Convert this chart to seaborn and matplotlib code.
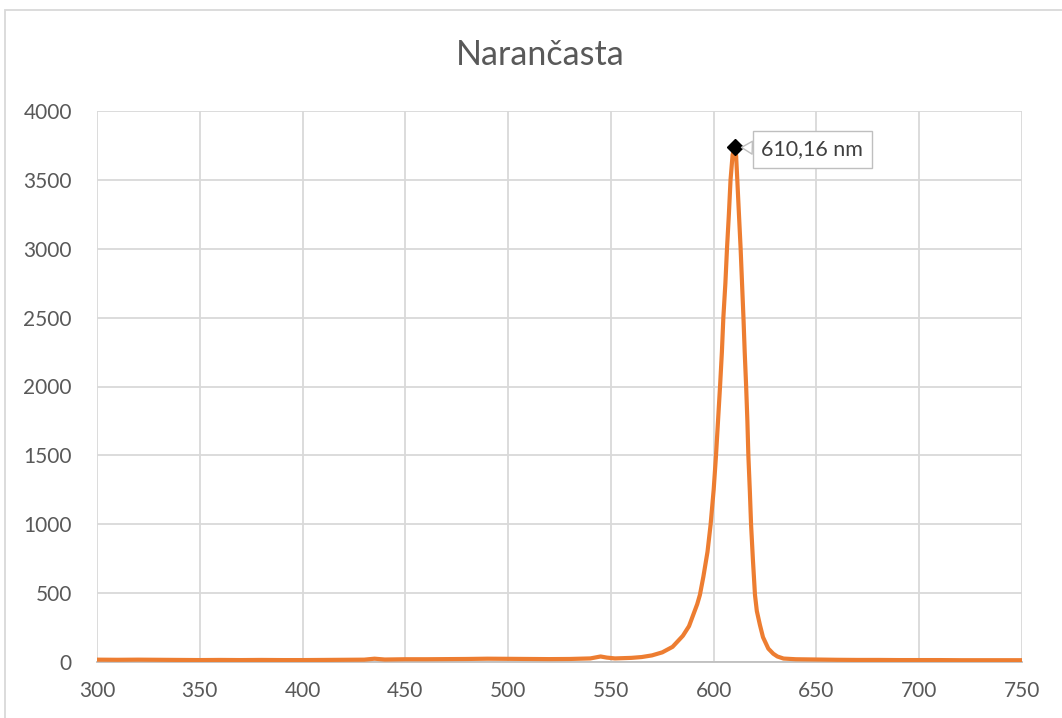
import matplotlib
matplotlib.use("Agg")
import matplotlib.pyplot as plt
import seaborn as sns
import pandas as pd
from matplotlib.patches import Rectangle

wavelength = [300, 310, 320, 330, 340, 350, 360, 370, 380, 390, 400, 410, 420, 430, 435, 440,
              450, 460, 470, 480, 490, 500, 510, 520, 530, 540, 545, 548, 552, 560, 565, 570,
              575, 580, 585, 588, 590, 592, 593.3, 595, 597, 598.5, 600, 601.1, 602, 603.1,
              604, 604.7, 605.7, 606.5, 607.4, 608.2, 609.2, 610.16, 610.9, 611.5, 612.3, 613.1,
              613.8, 614.5, 615.1, 615.8, 616.4, 616.9, 617.6, 618.2, 619.1, 620.1, 621, 622.5,
              624, 626.6, 629, 631, 634, 640, 650, 660, 670, 680, 690, 700, 710, 720, 730, 740, 750]
intensity = [17, 16, 17, 16, 15, 14, 15, 14, 15, 14, 14, 15, 16, 17, 24, 18,
             20, 20, 21, 22, 24, 23, 22, 21, 22, 26, 40, 32, 26, 30, 36, 48,
             70, 110, 190, 260, 340, 420, 487, 620, 800, 996, 1250, 1491, 1720, 2000,
             2250, 2497, 2750, 3006, 3250, 3498, 3680, 3737, 3680, 3498, 3250, 3006,
             2750, 2497, 2250, 2000, 1750, 1491, 1240, 996, 740, 487, 370, 269,
             180, 97, 60, 40, 25, 20, 18, 16, 15, 15, 14, 14, 14, 13, 13, 13, 13]
peak_x = 610.16
peak_y = 3737
peak_label = "610,16 nm"
title = "Narančasta"
x_ticks = [300, 350, 400, 450, 500, 550, 600, 650, 700, 750]
y_ticks = [0, 500, 1000, 1500, 2000, 2500, 3000, 3500, 4000]

df = pd.DataFrame({"wavelength": wavelength, "intensity": intensity})

sns.set_theme(style="white")
plt.rcParams['font.family'] = ['Lato', 'DejaVu Sans']

fig = plt.figure(figsize=(10.62, 7.18), dpi=100)
ax = fig.add_axes([97/1062, 1-662/718, (1022-97)/1062, (662-111)/718])

sns.lineplot(data=df, x="wavelength", y="intensity", ax=ax, color="#ED7D31",
             linewidth=3.0, sort=False, zorder=3)
ax.plot([peak_x], [peak_y], marker="D", color="black", markersize=8.5, zorder=4)

ax.annotate(peak_label, xy=(peak_x, peak_y), xytext=(648, 3722),
            ha="center", va="center", fontsize=15.5, color="#404040", zorder=5,
            bbox=dict(boxstyle="square,pad=0.4", fc="white", ec="#bfbfbf", lw=1),
            arrowprops=dict(arrowstyle="wedge,tail_width=0.6,shrink_factor=0.5",
                            fc="white", ec="#bfbfbf", lw=1, shrinkA=0, shrinkB=5))

ax.set_xlim(300, 750)
ax.set_ylim(0, 4000)
ax.set_xticks(x_ticks)
ax.set_yticks(y_ticks)
ax.set_xlabel("")
ax.set_ylabel("")
ax.grid(True, color="#d9d9d9", linewidth=1.3)
ax.set_axisbelow(True)
for s in ["top", "right", "left"]:
    ax.spines[s].set_visible(False)
ax.spines["bottom"].set_color("#bfbfbf")
ax.spines["bottom"].set_linewidth(1.3)
ax.tick_params(axis="both", length=0, labelsize=15, labelcolor="#595959")
ax.tick_params(axis="x", pad=14)
ax.tick_params(axis="y", pad=18)

fig.text(540/1062, 1-55/718, title, ha="center", va="center", fontsize=24.5, color="#595959")

fig.patches.append(Rectangle((4.5/1062, -0.2), 1.2, 1.2 - 9.5/718,
                             transform=fig.transFigure, fill=False, ec="#d9d9d9", lw=1.3))

fig.savefig("out.png", dpi=100)
